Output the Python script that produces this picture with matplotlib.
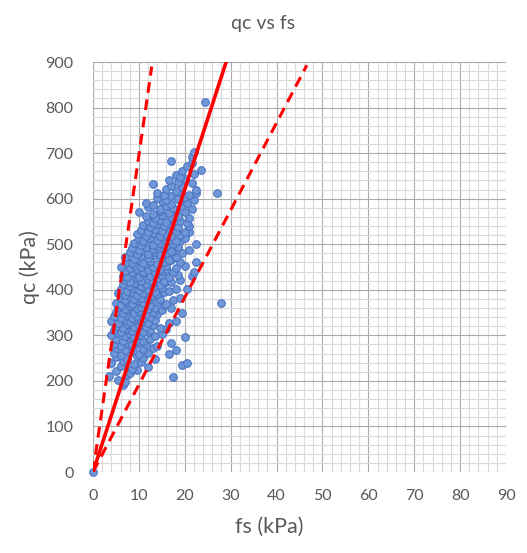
import matplotlib
matplotlib.use("Agg")
import matplotlib.pyplot as plt
from matplotlib.ticker import MultipleLocator

plt.rcParams['font.family'] = ['Lato', 'DejaVu Sans']

# scatter data (fs in kPa, qc in kPa)
fs = [
    0,
    6.5,
    5.5, 7,
    3.5, 7.5, 17.5,
    5, 8, 9.5,
    6, 8.5, 12, 19.5,
    4, 6.5, 9, 10.5, 13.5, 20.5,
    5, 7.5, 9.5, 11,
    4.5, 6, 8, 10, 12, 16.5,
    5, 7, 9, 11, 13, 18,
    4.5, 6, 7.5, 8.5, 10, 11.5, 14, 17,
    5, 6.5, 8, 9.5, 11, 12.5,
    4, 5.5, 7, 8, 9, 10.5, 12, 13.5, 15, 20,
    4.5, 6, 7.5, 8.5, 10, 11, 12.5, 16,
    5, 6.5, 7.5, 9, 10, 11.5, 13, 14.5,
    4, 5.5, 7, 8, 9, 10.5, 12, 13.5, 16.5, 18,
    4.5, 6, 7.5, 8.5, 9.5, 11, 12.5, 14,
    5, 6.5, 7.5, 9, 10, 11.5, 13, 15, 19.5,
    5.5, 7, 8, 9.5, 10.5, 12, 13.5, 15.5, 17,
    5, 6, 7.5, 8.5, 10, 11, 12.5, 14, 16, 28,
    6, 7, 8, 9, 10.5, 12, 13, 14.5, 17.5, 19,
    5.5, 7, 8.5, 9.5, 11, 12.5, 14, 15.5,
    6, 7.5, 8.5, 10, 11, 12, 13.5, 15, 16.5, 18, 20.5,
    6.5, 8, 9, 10.5, 11.5, 13, 14.5, 16,
    7, 8, 9.5, 10.5, 12, 13, 14, 15.5, 17, 19,
    6.5, 7.5, 9, 10, 11, 12.5, 14, 15, 16.5, 18.5, 21.5,
    7, 8.5, 9.5, 11, 12, 13.5, 15, 16, 17.5, 22,
    6, 8, 9, 10.5, 11.5, 13, 14.5, 16, 18, 20,
    7.5, 8.5, 10, 11, 12.5, 14, 15.5, 17, 19, 22.5,
    7, 9, 10.5, 12, 13.5, 15, 16.5, 18,
    8, 9.5, 11, 12, 13.5, 14.5, 16, 17.5, 19.5,
    8.5, 10, 11.5, 13, 14, 15.5, 17, 18.5, 21,
    9, 10.5, 12, 13, 14.5, 16, 17.5, 19, 22.5,
    10, 11, 12.5, 14, 15, 16.5, 18, 20,
    9.5, 11.5, 13, 14.5, 16, 17, 19, 21,
    10.5, 12, 13.5, 15, 16.5, 18, 20,
    11, 12.5, 14, 15.5, 17, 18.5, 21,
    12, 13, 14.5, 16, 17.5, 19, 20.5,
    11.5, 13.5, 15, 17, 18.5, 21,
    10, 13, 14.5, 16.5, 18, 20,
    12, 14.5, 16, 17.5, 19.5, 21.5,
    11.5, 13, 15, 17, 19, 20.5,
    14, 16, 17, 18.5, 20, 22,
    14, 15.5, 19, 21, 22.5, 27,
    16, 18, 19.5, 22.5,
    13, 17, 21.5,
    16.5, 18.5, 20,
    18, 19, 22,
    19.5, 23.5,
    20.5,
    17, 21.5,
    21.5,
    22,
    24.5,
]
qc = [
    0,
    190,
    203, 197,
    210, 214, 208,
    222, 217, 224,
    232, 227, 230, 234,
    240, 244, 237, 242, 247, 240,
    252, 248, 255, 250,
    261, 257, 264, 259, 262, 258,
    272, 267, 275, 269, 273, 268,
    281, 277, 284, 279, 286, 281, 277, 283,
    292, 288, 295, 290, 287, 293,
    300, 305, 298, 303, 296, 301, 307, 299, 304, 297,
    312, 308, 315, 309, 313, 307, 311, 314,
    321, 317, 325, 319, 323, 318, 322, 316,
    331, 327, 334, 329, 336, 330, 326, 333, 328, 332,
    342, 338, 345, 339, 343, 337, 341, 346,
    351, 348, 355, 349, 353, 347, 352, 356, 350,
    362, 358, 365, 359, 363, 357, 361, 366, 360,
    371, 367, 374, 369, 376, 370, 366, 373, 368, 370,
    381, 377, 384, 379, 383, 378, 386, 380, 377, 382,
    392, 388, 395, 389, 393, 387, 391, 396,
    401, 397, 404, 399, 406, 400, 396, 403, 398, 402, 401,
    412, 408, 415, 409, 413, 407, 411, 416,
    421, 417, 425, 419, 423, 418, 426, 420, 417, 422,
    431, 427, 434, 429, 436, 430, 426, 433, 428, 432, 430,
    442, 438, 445, 439, 443, 437, 441, 446, 440, 440,
    451, 447, 454, 449, 456, 450, 446, 453, 448, 452,
    462, 458, 465, 459, 463, 457, 461, 466, 460, 460,
    471, 467, 474, 469, 476, 470, 466, 473,
    482, 478, 485, 479, 483, 477, 481, 486, 480,
    491, 487, 494, 489, 496, 490, 486, 493, 488,
    502, 498, 505, 499, 503, 497, 501, 506, 500,
    511, 507, 514, 509, 516, 510, 506, 513,
    522, 518, 525, 519, 523, 517, 521, 526,
    531, 527, 534, 529, 536, 530, 526,
    542, 538, 545, 539, 543, 537, 541,
    551, 547, 554, 549, 556, 550, 546,
    562, 558, 565, 559, 563, 557,
    571, 567, 574, 569, 576, 570,
    582, 578, 585, 579, 583, 577,
    591, 587, 594, 589, 596, 590,
    602, 598, 605, 599, 603, 597,
    612, 608, 615, 609, 613, 612,
    621, 617, 625, 619,
    632, 628, 635,
    641, 637, 644,
    652, 648, 655,
    661, 663,
    671,
    682, 678,
    691,
    702,
    812,
]

# reference lines (end points)
mid_line_fs = [0, 29.5]
mid_line_qc = [0, 915]
upper_line_fs = [0, 12.8]
upper_line_qc = [0, 890]
lower_line_fs = [0, 46.6]
lower_line_qc = [0, 893]

title = "qc vs fs"
xlabel = "fs (kPa)"
ylabel = "qc (kPa)"

fig = plt.figure(figsize=(5.27, 5.53), dpi=100)
ax = fig.add_axes([93/527, 1 - 472/553, (506 - 93)/527, (472 - 62)/553])

ax.set_xlim(0, 90)
ax.set_ylim(0, 900)
ax.xaxis.set_major_locator(MultipleLocator(10))
ax.xaxis.set_minor_locator(MultipleLocator(2))
ax.yaxis.set_major_locator(MultipleLocator(100))
ax.yaxis.set_minor_locator(MultipleLocator(20))
ax.grid(which='minor', color='#d9d9d9', linewidth=0.8)
ax.grid(which='major', color='#ababab', linewidth=0.8)
ax.set_axisbelow(True)
for s in ax.spines.values():
    s.set_visible(False)
ax.tick_params(which='both', length=0)
ax.tick_params(axis='both', labelsize=11.5, labelcolor='#595959')
ax.tick_params(axis='x', pad=12)
ax.tick_params(axis='y', pad=14)

ax.scatter(fs, qc, s=30, facecolor='#6f97d8', edgecolor='#4a74c4',
           linewidth=0.8, zorder=3, clip_on=False)

ax.plot(mid_line_fs, mid_line_qc, color='#ff0000', linewidth=2.6, zorder=4)
ax.plot(upper_line_fs, upper_line_qc, color='#ff0000', linewidth=2.2,
        dashes=(3.5, 2.2), zorder=4)
ax.plot(lower_line_fs, lower_line_qc, color='#ff0000', linewidth=2.2,
        dashes=(3.5, 2.2), zorder=4)

fig.text(0.5, 1 - 23/553, title, ha='center', va='center', fontsize=14,
         color='#595959')
fig.text(0.5 + 0.01, 1 - 527/553, xlabel, ha='center', va='center', fontsize=15.5,
         color='#595959')
fig.text(30/527, 1 - 267/553, ylabel, ha='center', va='center', fontsize=15.5,
         color='#595959', rotation=90)

fig.savefig("out.png", dpi=100)
